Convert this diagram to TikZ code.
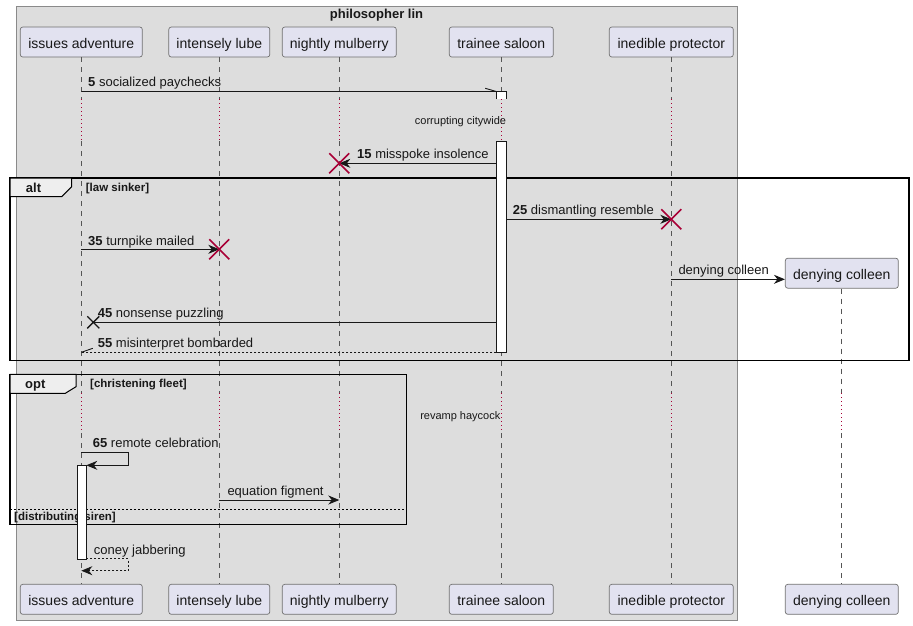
\documentclass[tikz,border=0pt]{standalone}
\usepackage{fontspec}
\setmainfont{Liberation Sans}
\usetikzlibrary{arrows.meta,calc}
\definecolor{boxfill}{HTML}{DDDDDD}
\definecolor{boxline}{HTML}{8A8A8A}
\definecolor{partfill}{HTML}{E2E2F0}
\definecolor{partline}{HTML}{707070}
\definecolor{ink}{HTML}{181818}
\definecolor{lifegray}{HTML}{555555}
\definecolor{delayred}{HTML}{A80036}
\definecolor{tabfill}{HTML}{EEEEEE}
\tikzset{
  part/.style={draw=partline, fill=partfill, rounded corners=2.5pt, line width=0.7pt,
    minimum height=30pt, inner sep=0pt, text height=13pt, text depth=1pt,
    font=\fontsize{14}{16}\selectfont, text=ink},
  lifeline/.style={draw=lifegray, line width=0.7pt, dash pattern=on 5pt off 5pt},
  delayline/.style={draw=delayred, line width=0.8pt, dash pattern=on 1pt off 3pt},
  msg/.style={draw=ink, line width=0.9pt, -{Stealth[length=11pt,width=9pt,inset=3.5pt]}},
  plainmsg/.style={draw=ink, line width=0.9pt},
  retmsg/.style={draw=ink, line width=0.9pt, dash pattern=on 2pt off 2pt},
  lbl/.style={anchor=base west, inner sep=0pt, font=\fontsize{13}{15}\selectfont, text=ink},
  smalltxt/.style={anchor=base, inner sep=0pt, font=\fontsize{11}{13}\selectfont, text=ink},
  guard/.style={anchor=base west, inner sep=0pt, font=\bfseries\fontsize{11.5}{13}\selectfont, text=ink},
  tabtxt/.style={anchor=base, inner sep=0pt, font=\bfseries\fontsize{13}{15}\selectfont, text=ink},
  frameline/.style={draw=black, line width=1.5pt},
  tabshape/.style={draw=black, fill=tabfill, line width=1pt},
  actbar/.style={draw=ink, fill=white, line width=0.8pt},
  killred/.style={draw=delayred, line width=1.6pt},
  killblack/.style={draw=ink, line width=1.4pt},
}
\begin{document}
\begin{tikzpicture}[x=1pt,y=-1pt]
\useasboundingbox (0,0) rectangle (913,625);
% grey box
\draw[boxline, fill=boxfill, line width=0.8pt] (16,6) rectangle (737,620);
\node[anchor=base, inner sep=0pt, font=\bfseries\fontsize{13}{15}\selectfont, text=ink] (boxtitle) at (376.5,18.3) {philosopher lin};
% participants top
\node[part, minimum width=122pt] (ia) at (81.3,42) {issues adventure};
\node[part, minimum width=101pt] (il) at (219.3,42) {intensely lube};
\node[part, minimum width=114pt] (nm) at (339.3,42) {nightly mulberry};
\node[part, minimum width=104pt] (ts) at (501.3,42) {trainee saloon};
\node[part, minimum width=124pt] (ip) at (671.3,42) {inedible protector};
\node[part, minimum width=113pt] (dc) at (841.8,273.2) {denying colleen};
% participants bottom
\node[part, minimum width=122pt] (iab) at (81.3,599.3) {issues adventure};
\node[part, minimum width=101pt] (ilb) at (219.3,599.3) {intensely lube};
\node[part, minimum width=114pt] (nmb) at (339.3,599.3) {nightly mulberry};
\node[part, minimum width=104pt] (tsb) at (501.3,599.3) {trainee saloon};
\node[part, minimum width=124pt] (ipb) at (671.3,599.3) {inedible protector};
\node[part, minimum width=113pt] (dcb) at (841.8,599.3) {denying colleen};
% lifelines
\foreach \p in {ia,il,nm,ts,ip} {
  \draw[lifeline] (\p.south) -- (\p.south |- 0,99);
  \draw[delayline] (\p.south |- 0,99) -- (\p.south |- 0,141);
  \draw[lifeline] (\p.south |- 0,141) -- (\p.south |- 0,393);
  \draw[delayline] (\p.south |- 0,393) -- (\p.south |- 0,433);
  \draw[lifeline] (\p.south |- 0,433) -- (\p b.north);
}
\draw[lifeline] (dc.south) -- (dc.south |- 0,393);
\draw[delayline] (dc.south |- 0,393) -- (dc.south |- 0,433);
\draw[lifeline] (dc.south |- 0,433) -- (dcb.north);
% delay texts
\node[smalltxt] (d1) at (460.5,124.5) {corrupting citywide};
\node[smalltxt] (d2) at (460.3,419) {revamp haycock};
% frames
\draw[frameline] (10,178) rectangle (909,360.3);
\draw[tabshape] (10,178) -- (71.7,178) -- (71.7,186.7) -- (61.7,196.7) -- (10,196.7) -- cycle;
\node[tabtxt] (alttab) at (33.5,192.5) {alt};
\node[guard] (g1) at (85.7,191.5) {[law sinker]};
\draw[frameline] (10,374.3) rectangle (406.7,524.3);
\draw[tabshape] (10,374.3) -- (76,374.3) -- (76,386.7) -- (65.3,393.3) -- (10,393.3) -- cycle;
\node[tabtxt] (opttab) at (35.3,388) {opt};
\node[guard] (g2) at (90,387.5) {[christening fleet]};
\draw[draw=black, line width=0.8pt, dash pattern=on 2pt off 2pt] (10,509) -- (406.7,509);
\node[guard] (g3) at (14,520.5) {[distributing siren]};
% activation bars
\fill[white] (496.3,91) rectangle (506.3,99);
\draw[ink, line width=0.8pt] (496.3,99) -- (496.3,91) -- (506.3,91) -- (506.3,99);
\filldraw[actbar] (496.3,141) rectangle (506.3,352.3);
\filldraw[actbar] (77,465.3) rectangle (86.3,559.3);
% message 5
\coordinate (m5a) at (81.3,91.5);
\coordinate (m5b) at (496.3,91.5);
\draw[plainmsg] (m5a) -- (m5b) -- ++(-11,-3.2);
\node[lbl] (l5) at (88,86) {\textbf{5} socialized paychecks};
% message 15
\coordinate (m15a) at (496.3,163.3);
\coordinate (m15b) at (339.3,163.3);
\draw[msg] (m15a) -- (m15b);
\draw[killred] ($(m15b)+(-10,-10)$) -- ($(m15b)+(10,10)$) ($(m15b)+(-10,10)$) -- ($(m15b)+(10,-10)$);
\node[lbl] (l15) at (357,158.3) {\textbf{15} misspoke insolence};
% message 25
\coordinate (m25a) at (506.3,219.3);
\coordinate (m25b) at (671.3,219.3);
\draw[msg] (m25a) -- (m25b);
\draw[killred] ($(m25b)+(-10,-10)$) -- ($(m25b)+(10,10)$) ($(m25b)+(-10,10)$) -- ($(m25b)+(10,-10)$);
\node[lbl] (l25) at (512.7,214) {\textbf{25} dismantling resemble};
% message 35
\coordinate (m35a) at (81.3,249.3);
\coordinate (m35b) at (219.3,249.3);
\draw[msg] (m35a) -- (m35b);
\draw[killred] ($(m35b)+(-10,-10)$) -- ($(m35b)+(10,10)$) ($(m35b)+(-10,10)$) -- ($(m35b)+(10,-10)$);
\node[lbl] (l35) at (88,245) {\textbf{35} turnpike mailed};
% create message
\draw[msg] (ip.south |- 0,279.3) -- (dc.west |- 0,279.3);
\node[lbl] (ldc) at (678.3,274.3) {denying colleen};
% message 45
\coordinate (m45a) at (496.3,322.3);
\coordinate (m45b) at (93.3,322.3);
\draw[plainmsg] (m45a) -- (m45b);
\draw[killblack] ($(m45b)+(-6,-6)$) -- ($(m45b)+(6,6)$) ($(m45b)+(-6,6)$) -- ($(m45b)+(6,-6)$);
\node[lbl] (l45) at (97.7,317.3) {\textbf{45} nonsense puzzling};
% message 55
\coordinate (m55a) at (496.3,352.3);
\coordinate (m55b) at (81.3,352.3);
\draw[retmsg] (m55a) -- (m55b);
\draw[plainmsg] (m55b) -- ++(11.5,-4);
\node[lbl] (l55) at (97.7,347.3) {\textbf{55} misinterpret bombarded};
% message 65 (self)
\coordinate (m65a) at (81.3,452.3);
\coordinate (m65b) at (86.3,465.3);
\draw[msg] (m65a) -- (128.3,452.3) -- (128.3,465.3) -- (m65b);
\node[lbl] (l65) at (92.7,447.3) {\textbf{65} remote celebration};
% equation figment
\draw[msg] (il.south |- 0,500) -- (nm.south |- 0,500);
\node[lbl] (lef) at (227.3,495.5) {equation figment};
% coney jabbering (return, self)
\coordinate (mcja) at (86.3,558.7);
\coordinate (mcjb) at (81.3,570.7);
\draw[retmsg, -{Stealth[length=11pt,width=9pt,inset=3.5pt]}] (mcja) -- (128.3,558.7) -- (128.3,570.7) -- (mcjb);
\node[lbl] (lcj) at (93.7,554) {coney jabbering};
\end{tikzpicture}
\end{document}
